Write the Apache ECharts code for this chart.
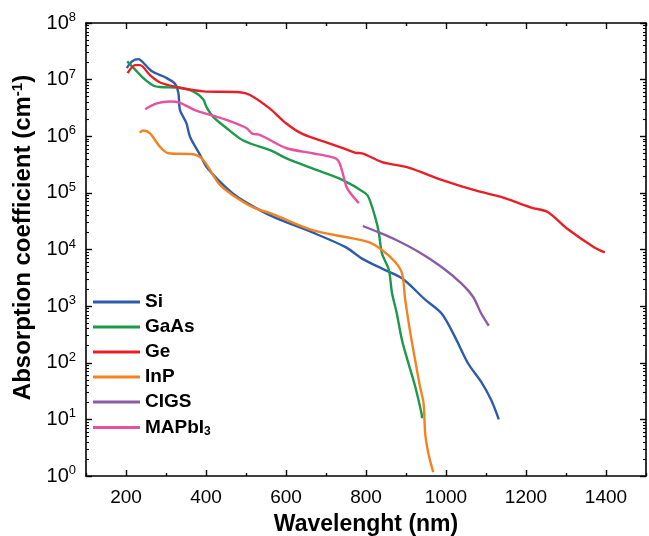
<!DOCTYPE html>
<html>
<head>
<meta charset="utf-8">
<script src="https://cdn.jsdelivr.net/npm/echarts@6/dist/echarts.min.js"></script>
<style>
html,body{margin:0;padding:0;background:#fff;}
#chart{width:649px;height:536px;}
</style>
</head>
<body>
<div id="chart"></div>
<script>
// ---- Data (wavelength nm, absorption coefficient cm^-1) ----
const seriesNames = ['Si', 'GaAs', 'Ge', 'InP', 'CIGS', 'MAPbI3'];

const siData = [[202,1.6e7],[215,2.1e7],[231,2.3e7],[240,2.1e7],[265,1.4e7],[298,1.1e7],[322,8.5e6],[331,5.8e6],[335,2.9e6],[351,1.7e6],[360,9.8e5],[385,4.7e5],[401,2.9e5],[434,1.6e5],[467,9.8e4],[500,6.8e4],[567,3.8e4],[666,2.0e4],[749,1.1e4],[790,6.9e3],[840,4.6e3],[890,3.1e3],[948,1.3e3],[989,7.4e2],[1022,2.9e2],[1055,98],[1088,46],[1113,22],[1132,10]];

const gaasData = [[203,2.1e7],[223,1.5e7],[244,1.05e7],[269,7.8e6],[285,7.4e6],[335,7.1e6],[368,6.2e6],[393,4.5e6],[401,3.3e6],[418,2.2e6],[451,1.4e6],[492,8.5e5],[567,5.4e5],[600,4.1e5],[666,2.7e5],[741,1.7e5],[799,9.8e4],[808,7.9e4],[824,3.5e4],[832,2.0e4],[840,8.5e3],[857,4.4e3],[865,1.7e3],[877,7.4e2],[890,2.5e2],[906,98],[923,38],[939,12.6],[940,10.5]];

const geData = [[204,1.3e7],[223,1.8e7],[235,1.8e7],[260,1.2e7],[285,8.9e6],[327,7.4e6],[393,6.2e6],[484,6.0e6],[509,5.4e6],[559,3.1e6],[600,1.7e6],[641,1.1e6],[699,7.9e5],[749,5.9e5],[774,5.1e5],[790,5.0e5],[840,3.5e5],[906,2.8e5],[989,1.7e5],[1080,1.07e5],[1138,8.5e4],[1213,5.5e4],[1254,4.6e4],[1304,2.3e4],[1370,1.1e4],[1397,8.9e3]];

const inpData = [[234,1.17e6],[244,1.26e6],[260,1.12e6],[285,6.5e5],[306,5.0e5],[368,4.8e5],[393,3.8e5],[434,1.4e5],[467,9.1e4],[517,5.6e4],[567,4.2e4],[666,2.2e4],[749,1.66e4],[807,1.35e4],[840,9.8e3],[873,6.0e3],[890,3.8e3],[898,1.3e3],[911,3.3e2],[923,1.1e2],[935,38],[944,19],[948,5.6],[956,2.5],[968,1.17]];

const cigsData = [[792,2.6e4],[832,2.0e4],[873,1.5e4],[931,9.1e3],[989,4.9e3],[1039,2.5e3],[1068,1.45e3],[1088,7.4e2],[1107,4.5e2]];

const mapbi3Data = [[248,3.0e6],[277,3.8e6],[310,4.1e6],[335,3.9e6],[372,2.9e6],[418,2.3e6],[451,1.95e6],[501,1.4e6],[517,1.1e6],[533,1.07e6],[600,6.2e5],[666,5.0e5],[708,4.4e5],[728,3.9e5],[735,3.2e5],[742,2.2e5],[753,1.2e5],[782,6.6e4]];

const xTickLabels = [200, 400, 600, 800, 1000, 1200, 1400];
const yTickValues = [1, 1e1, 1e2, 1e3, 1e4, 1e5, 1e6, 1e7, 1e8];

// ---- Styling ----
const colors = ['#2e5cab', '#1b9a4b', '#e81f27', '#f58220', '#8b5ba6', '#e9509d'];
const allData = [siData, gaasData, geData, inpData, cigsData, mapbi3Data];
const FONT = 'Liberation Sans, Arial, sans-serif';

const axisLineStyle = { show: true, onZero: false, lineStyle: { color: '#000', width: 1.6 } };
const tickLine = { color: '#000', width: 1.4 };

// x axis: scale ticks every 200 counted from min 100 (100,300,...,1500 = short ticks),
// minor ticks halfway (200,400,...,1400 = long ticks)
function xAxisDef(pos, withLabels) {
  return {
    type: 'value', position: pos, min: 100, max: 1500, interval: 200,
    axisLine: axisLineStyle, splitLine: { show: false },
    axisTick: { show: true, inside: true, length: 3, lineStyle: tickLine },
    minorTick: { show: true, splitNumber: 2, length: 6, lineStyle: tickLine },
    minorSplitLine: { show: false },
    axisLabel: withLabels ? { show: true, customValues: xTickLabels, margin: 12, color: '#000', fontSize: 19, fontFamily: FONT,
      formatter: function (v) { return String(v); } } : { show: false },
    name: withLabels ? 'Wavelenght (nm)' : '', nameLocation: 'middle', nameGap: 37,
    nameTextStyle: { color: '#000', fontSize: 23, fontWeight: 'bold', fontFamily: FONT }
  };
}
function yAxisDef(pos, withLabels) {
  return {
    type: 'log', logBase: 10, position: pos, min: 1, max: 1e8, splitNumber: 8,
    axisLine: axisLineStyle, splitLine: { show: false },
    axisTick: { show: true, inside: true, length: 6, lineStyle: tickLine },
    minorTick: { show: true, splitNumber: 9, length: 3, lineStyle: { color: '#000', width: 1.1 } },
    minorSplitLine: { show: false },
    axisLabel: withLabels ? { show: true, customValues: yTickValues, margin: 10, color: '#000', fontSize: 20, fontFamily: FONT,
      formatter: function (v) { return '10{sup|' + Math.round(Math.log10(v)) + '}'; },
      rich: { sup: { fontSize: 13, verticalAlign: 'top', padding: [0, 0, 11, 0], color: '#000', fontFamily: FONT } } } : { show: false },
    name: withLabels ? 'Absorption coefficient (cm{sup|-1})' : '', nameLocation: 'middle', nameGap: 46, nameRotate: 90,
    nameTextStyle: { color: '#000', fontSize: 24, fontWeight: 'bold', fontFamily: FONT, padding: [0, 0, 0, 24],
      rich: { sup: { fontSize: 15, fontWeight: 'bold', padding: [0, 0, 12, 0], fontFamily: FONT, color: '#000' } } }
  };
}

const chart = echarts.init(document.getElementById('chart'), null, { renderer: 'canvas' });
chart.setOption({
  animation: false,
  backgroundColor: '#fff',
  color: colors,
  grid: { left: 86, right: 3, top: 23, bottom: 60, containLabel: false, outerBoundsMode: 'none' },
  xAxis: [xAxisDef('bottom', true), xAxisDef('top', false)],
  yAxis: [yAxisDef('left', true), yAxisDef('right', false)],
  legend: {
    orient: 'vertical', left: 88, top: 287,
    icon: 'rect', itemWidth: 47, itemHeight: 3, itemGap: 5,
    data: seriesNames,
    textStyle: { color: '#000', fontSize: 19, fontWeight: 'bold', fontFamily: FONT, lineHeight: 20,
      rich: { sub: { fontSize: 12, fontWeight: 'bold', fontFamily: FONT, color: '#000', lineHeight: 12, padding: [9, 0, 0, 0] } } },
    formatter: function (n) { return n === 'MAPbI3' ? 'MAPbI{sub|3}' : n; }
  },
  series: seriesNames.map(function (n, i) {
    return {
      name: n, type: 'line', data: allData[i], xAxisIndex: 0, yAxisIndex: 0,
      showSymbol: false, symbol: 'none', smooth: 0.3,
      lineStyle: { width: 2.4, color: colors[i] }, itemStyle: { color: colors[i] }
    };
  })
});
</script>
</body>
</html>
